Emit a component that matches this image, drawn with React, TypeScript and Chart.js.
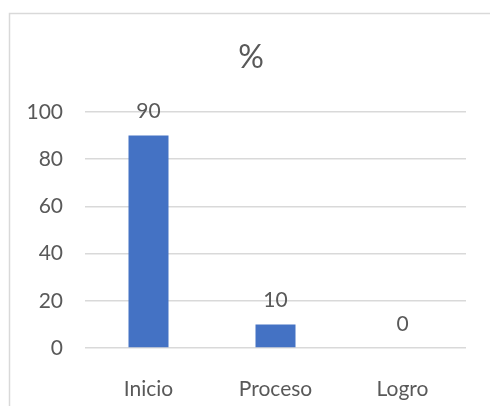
import React, { useEffect, useRef } from "react";
import { Chart, registerables } from "chart.js";

Chart.register(...registerables);

const categories = ["Inicio", "Proceso", "Logro"];
const values = [90, 10, 0];
const yTicks = [0, 20, 40, 60, 80, 100];
const titleText = "%";

const FONT = "Lato, 'Liberation Sans', sans-serif";
const TEXT_COLOR = "#595959";

export default function App() {
  const ref = useRef<HTMLCanvasElement | null>(null);

  useEffect(() => {
    document.body.style.margin = "0";
    const canvas = ref.current!;
    const frame = {
      id: "frame",
      beforeDraw(chart: any) {
        const ctx = chart.ctx;
        ctx.save();
        ctx.fillStyle = "#ffffff";
        ctx.fillRect(0, 0, chart.width, chart.height);
        ctx.strokeStyle = "#d9d9d9";
        ctx.lineWidth = 1.5;
        ctx.strokeRect(9.5, 13.5, 800, 800);
        ctx.restore();
      },
      afterDraw(chart: any) {
        const ctx = chart.ctx;
        ctx.save();
        ctx.fillStyle = TEXT_COLOR;
        ctx.font = `32px ${FONT}`;
        ctx.textAlign = "center";
        ctx.textBaseline = "middle";
        ctx.fillText(titleText, 251, 58);
        ctx.restore();
      },
      afterDatasetsDraw(chart: any) {
        const ctx = chart.ctx;
        const meta = chart.getDatasetMeta(0);
        ctx.save();
        ctx.fillStyle = TEXT_COLOR;
        ctx.font = `21px ${FONT}`;
        ctx.textAlign = "center";
        ctx.textBaseline = "middle";
        meta.data.forEach((bar: any, i: number) => {
          ctx.fillText(String(values[i]), bar.x, bar.y - 24);
        });
        ctx.restore();
      },
    };

    const chart = new Chart(canvas, {
      type: "bar",
      data: {
        labels: categories,
        datasets: [
          {
            data: values,
            backgroundColor: "#4472C4",
            barPercentage: 0.315,
            categoryPercentage: 1,
          },
        ],
      },
      options: {
        animation: false,
        responsive: false,
        layout: { padding: { left: 0, top: 112, right: 24, bottom: 0 } },
        plugins: { legend: { display: false }, tooltip: { enabled: false } },
        scales: {
          x: {
            grid: { display: false },
            border: { display: false },
            ticks: {
              color: TEXT_COLOR,
              font: { family: FONT, size: 21 },
              padding: 21,
            },
            afterFit(scale: any) {
              scale.height = 58;
            },
          },
          y: {
            min: 0,
            max: 100,
            afterBuildTicks(scale: any) {
              scale.ticks = yTicks.map((v) => ({ value: v }));
            },
            grid: { color: "#d9d9d9", lineWidth: 1.5, drawTicks: false },
            border: { display: false },
            ticks: {
              color: TEXT_COLOR,
              font: { family: FONT, size: 21 },
              padding: 22,
            },
            afterFit(scale: any) {
              scale.width = 85;
            },
          },
        },
      },
      plugins: [frame],
    });
    return () => chart.destroy();
  }, []);

  return <canvas ref={ref} width={490} height={406} style={{ display: "block" }} />;
}
